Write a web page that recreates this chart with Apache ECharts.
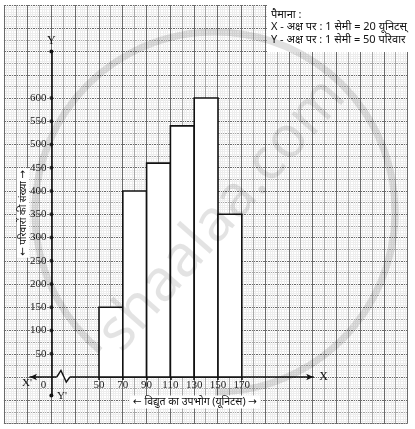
<!DOCTYPE html>
<html>
<head>
<meta charset="utf-8">
<script src="https://cdn.jsdelivr.net/npm/echarts@6/dist/echarts.min.js"></script>
<style>
html,body{margin:0;padding:0;background:#fff;}
#chart{width:415px;height:429px;}
</style>
</head>
<body>
<div id="chart"></div>
<script>
// ---- data ----
const classStart = [50, 70, 90, 110, 130, 150];
const classEnd   = [70, 90, 110, 130, 150, 170];
const families   = [150, 400, 460, 540, 600, 350];
const xTickValues = [50, 70, 90, 110, 130, 150, 170];
const yTickValues = [50, 100, 150, 200, 250, 300, 350, 400, 450, 500, 550, 600];
// the x axis is broken between 0 and 50: its origin sits at axis value 10 (shown as "0")
const xOriginValue = 10;
const xOriginLabel = '0';
const scaleLines = ['पैमाना :', 'X - अक्ष पर : 1 सेमी = 20 यूनिटस्', 'Y - अक्ष पर : 1 सेमी = 50 परिवार'];
const xTitle = '← विद्युत का उपभोग (यूनिटस) →';
const yTitle = '← परिवारों की संख्या →';
// zig-zag break mark on the x axis (axis units)
const breakMark = [[14.5, 0], [18, 14], [22.5, -11], [25.5, 0]];

const serif = '"Liberation Serif", "DejaVu Serif", serif';
const sans = '"Noto Sans", "DejaVu Sans", sans-serif';

const chart = echarts.init(document.getElementById('chart'), null, {renderer: 'canvas'});

const barData = classStart.map((s, i) => [s, classEnd[i], families[i]]);

const option = {
  animation: false,
  backgroundColor: '#fff',
  grid: [
    {left: 3.9, top: 5, width: 403.6, height: 418.5, show: false},
    {left: 30, top: 51.5, width: 283.2, height: 344.1, show: false}
  ],
  xAxis: [
    {
      gridIndex: 0, type: 'value', min: 0, max: 17, interval: 0.5,
      axisLine: {show: false}, axisTick: {show: false}, axisLabel: {show: false},
      splitLine: {show: true, lineStyle: {color: ['#6a6a6a', '#a8a8a8'], width: 1}},
      minorTick: {show: false, splitNumber: 5},
      minorSplitLine: {show: true, lineStyle: {color: '#ededed', width: 1}}
    },
    {
      gridIndex: 1, type: 'value', min: -8, max: 230, position: 'bottom', offset: -18.6,
      axisLine: {show: true, onZero: false, symbol: ['arrow', 'arrow'], symbolSize: [5, 7],
        lineStyle: {color: '#111', width: 1.6}},
      axisTick: {show: true, customValues: xTickValues, length: 3, lineStyle: {color: '#111', width: 1.5}},
      axisLabel: {
        show: true, customValues: [xOriginValue].concat(xTickValues), margin: 3,
        fontFamily: serif, fontSize: 11, color: '#222',
        formatter: v => v === xOriginValue ? '{o|' + xOriginLabel + '}' : String(v),
        rich: {o: {fontFamily: serif, fontSize: 11, color: '#222', padding: [0, 16, 0, 0]}}
      },
      splitLine: {show: false},
      name: 'X', nameLocation: 'end', nameGap: 6,
      nameTextStyle: {fontFamily: serif, fontSize: 12, color: '#111'}
    }
  ],
  yAxis: [
    {
      gridIndex: 0, type: 'value', min: 0, max: 18, interval: 0.5,
      axisLine: {show: false}, axisTick: {show: false}, axisLabel: {show: false},
      splitLine: {show: true, lineStyle: {color: ['#6a6a6a', '#a8a8a8'], width: 1}},
      minorTick: {show: false, splitNumber: 5},
      minorSplitLine: {show: true, lineStyle: {color: '#ededed', width: 1}}
    },
    {
      gridIndex: 1, type: 'value', min: -40, max: 700, position: 'left', offset: -21.4,
      axisLine: {show: true, onZero: false, symbol: ['circle', 'circle'], symbolSize: [4, 4],
        lineStyle: {color: '#111', width: 1.6}},
      axisTick: {show: false},
      axisLabel: {show: true, customValues: yTickValues, margin: 5,
        fontFamily: serif, fontSize: 11, color: '#222'},
      splitLine: {show: false},
      name: 'Y', nameLocation: 'end', nameGap: 5,
      nameTextStyle: {fontFamily: serif, fontSize: 12, color: '#111'}
    }
  ],
  series: [
    {
      type: 'custom', xAxisIndex: 1, yAxisIndex: 1, z: 3,
      data: barData,
      renderItem: (params, api) => {
        const p0 = api.coord([api.value(0), api.value(2)]);
        const p1 = api.coord([api.value(1), 0]);
        return {
          type: 'rect',
          shape: {x: p0[0], y: p0[1], width: p1[0] - p0[0], height: p1[1] - p0[1]},
          style: {fill: '#fff', stroke: '#111', lineWidth: 1.6}
        };
      }
    },
    {
      type: 'scatter', xAxisIndex: 1, yAxisIndex: 1, z: 5,
      symbol: 'circle', symbolSize: 4, itemStyle: {color: '#111'},
      data: yTickValues.map(v => [xOriginValue, v])
    },
    {
      type: 'custom', xAxisIndex: 1, yAxisIndex: 1, z: 6,
      data: [0],
      renderItem: (params, api) => {
        const pts = breakMark.map(p => api.coord(p));
        return {
          type: 'group',
          children: [
            {type: 'line', shape: {x1: pts[0][0], y1: pts[0][1], x2: pts[pts.length - 1][0], y2: pts[pts.length - 1][1]},
              style: {stroke: '#fff', lineWidth: 3}},
            {type: 'polyline', shape: {points: pts}, style: {stroke: '#111', lineWidth: 1.4, fill: null}}
          ]
        };
      }
    }
  ],
  graphic: [
    {type: 'rect', z: 10, shape: {x: 267, y: 3, width: 143, height: 49}, style: {fill: '#fff'}},
    {type: 'text', z: 11, x: 271, y: 8.5,
      style: {text: scaleLines.join('\n'), font: '11px ' + sans, lineHeight: 12.5, fill: '#111'}},
    {type: 'text', z: 11, x: 195, y: 402,
      style: {text: xTitle, font: '10.5px ' + sans, fill: '#111', align: 'center', verticalAlign: 'middle',
        backgroundColor: '#fff', padding: [1, 3]}},
    {type: 'text', z: 11, x: 23, y: 213, rotation: Math.PI / 2,
      style: {text: yTitle, font: '10px ' + sans, fill: '#111', align: 'center', verticalAlign: 'middle',
        backgroundColor: '#fff', padding: [1, 2]}},
    {type: 'text', z: 11, x: 27, y: 383,
      style: {text: "X'", font: '11px ' + serif, fill: '#111', align: 'center', verticalAlign: 'middle'}},
    {type: 'text', z: 11, x: 57, y: 396,
      style: {text: "Y'", font: '11px ' + serif, fill: '#111', align: 'left', verticalAlign: 'middle'}},
    // faint watermark
    {type: 'arc', z: 20, silent: true,
      shape: {cx: 215, cy: 212, r: 180, startAngle: 0.72 * Math.PI, endAngle: 2.5 * Math.PI, clockwise: true},
      style: {stroke: 'rgba(0,0,0,0.12)', lineWidth: 7, fill: null}},
    {type: 'text', z: 20, silent: true, x: 222, y: 215, rotation: Math.PI * 0.27,
      style: {text: 'shaalaa.com', font: '58px ' + sans, fill: 'rgba(0,0,0,0.11)', align: 'center', verticalAlign: 'middle'}}
  ]
};
chart.setOption(option);
</script>
</body>
</html>
